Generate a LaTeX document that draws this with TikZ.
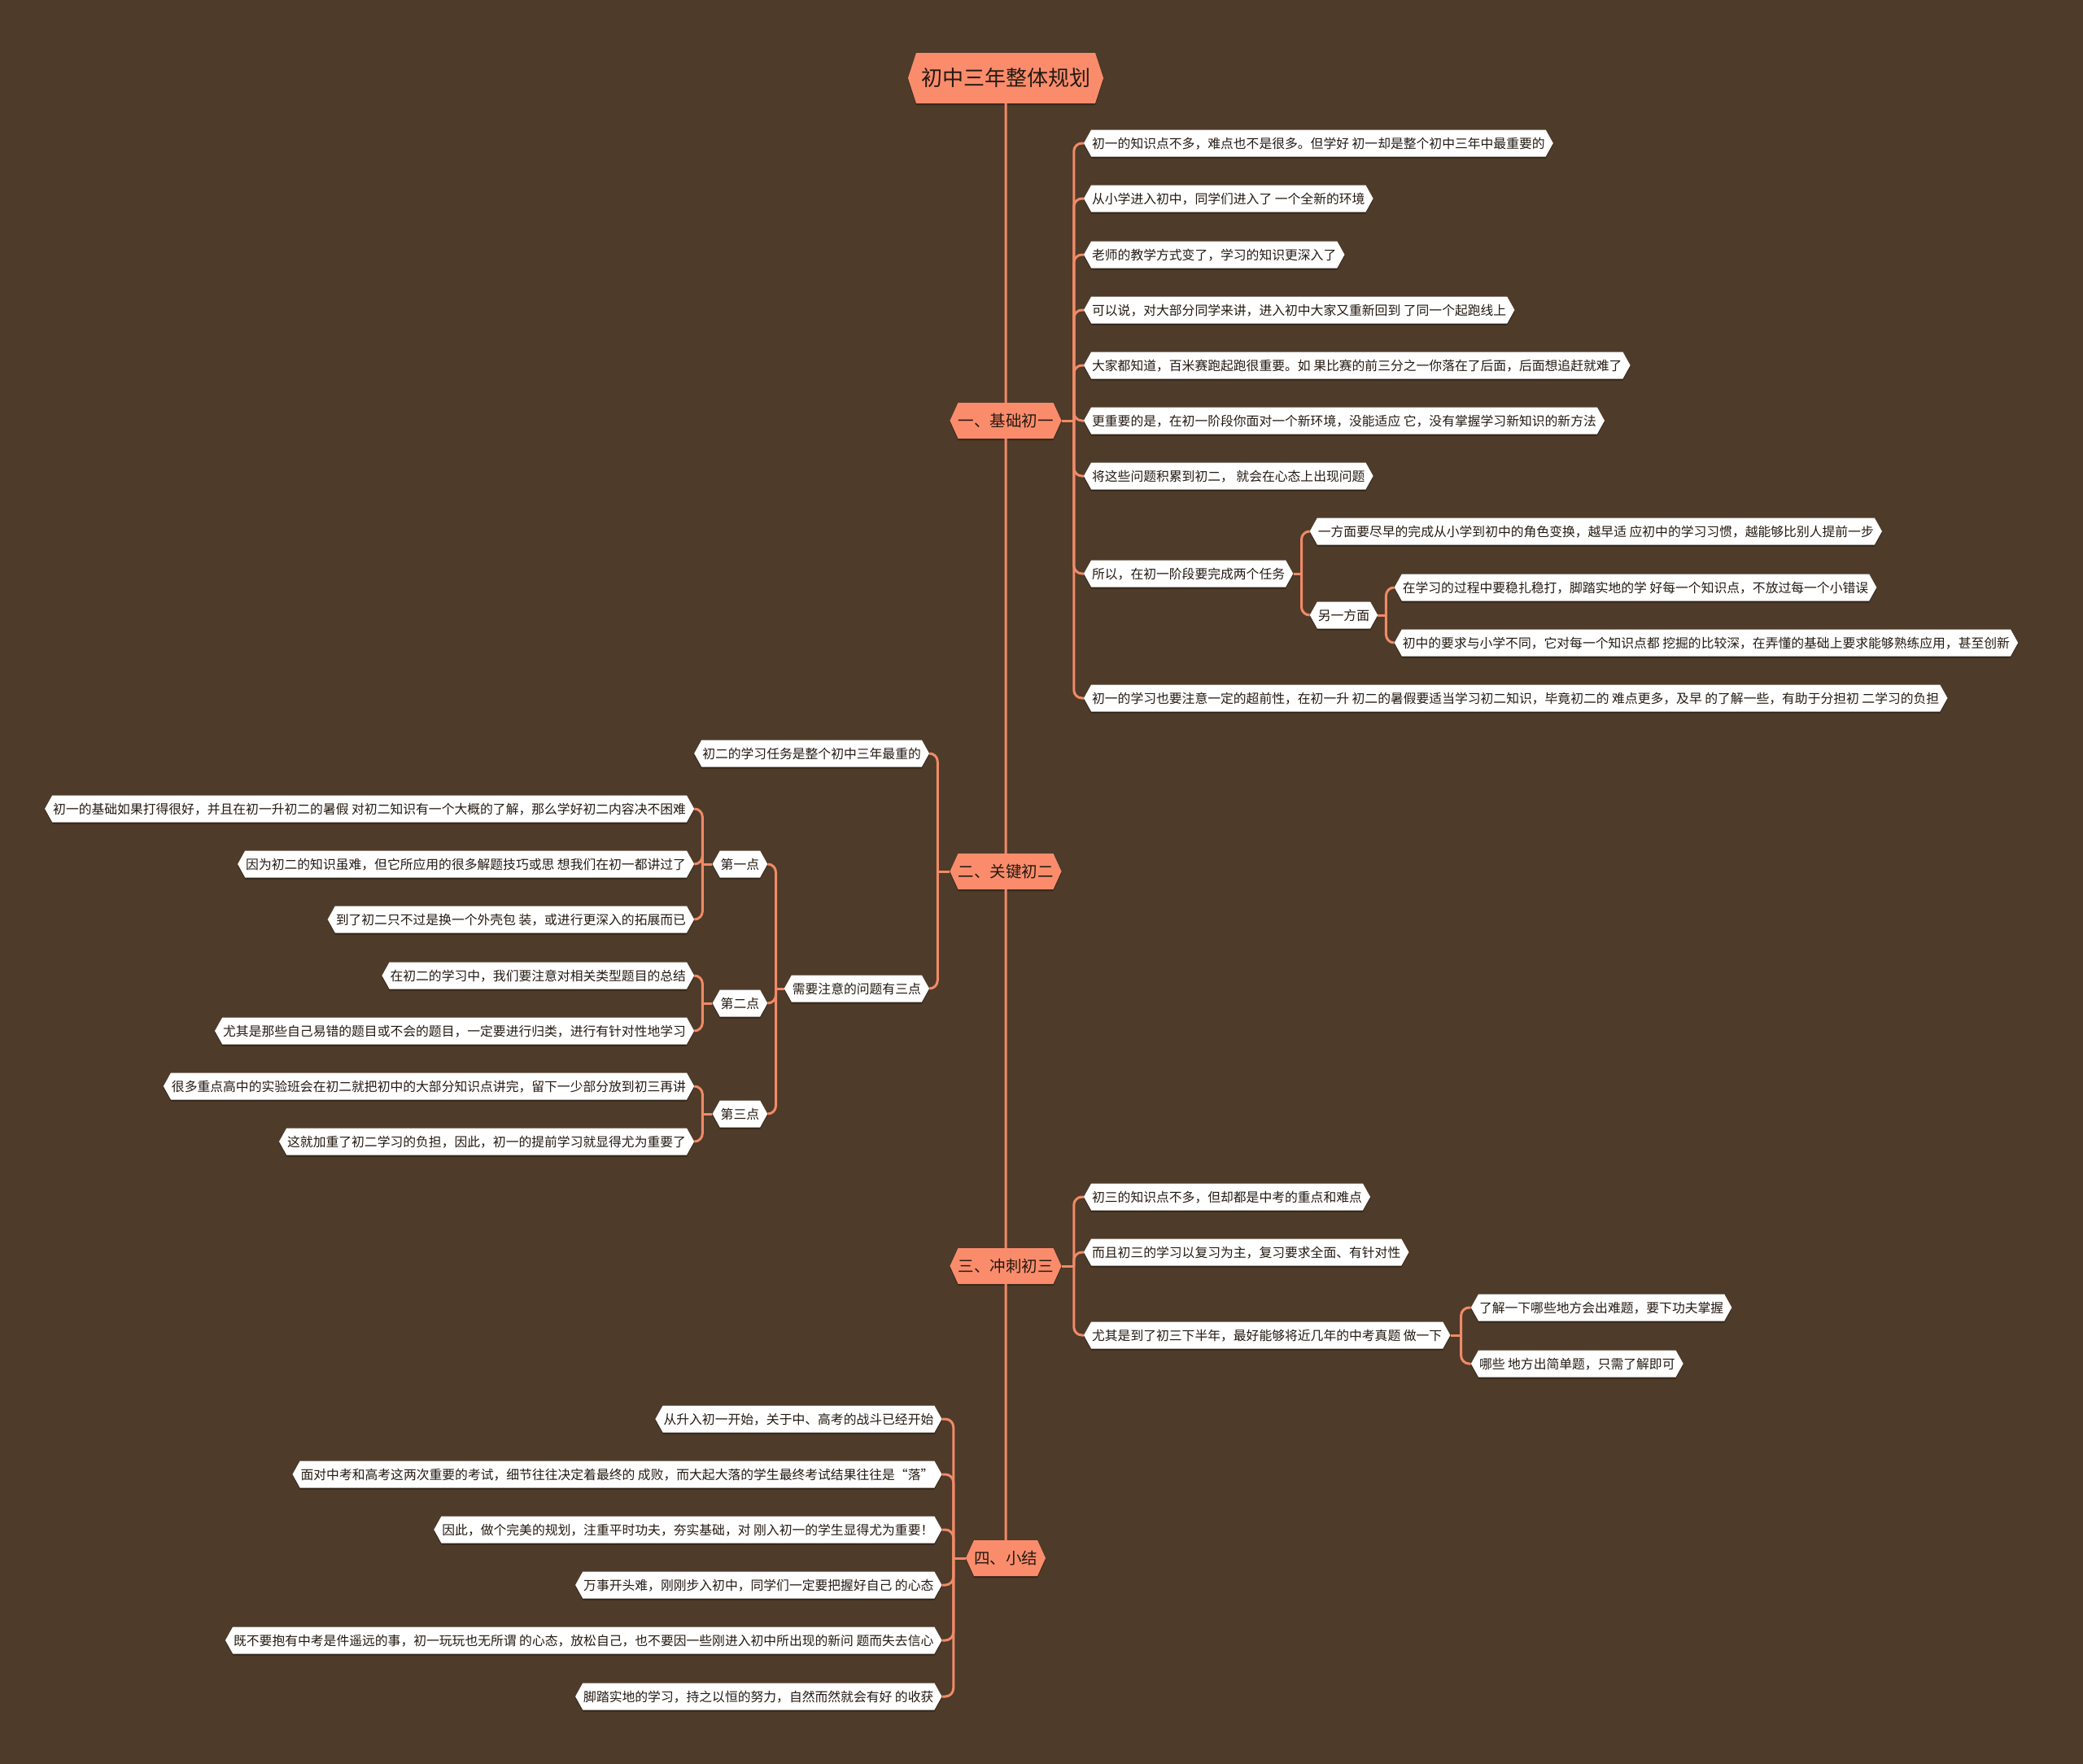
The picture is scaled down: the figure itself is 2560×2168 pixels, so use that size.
\documentclass[tikz,border=0pt]{standalone}
\usepackage{fontspec}
\setmainfont{Noto Sans CJK SC}
\usetikzlibrary{shapes.symbols,shadows}

\definecolor{bgbrown}{HTML}{4E3B29}
\definecolor{salmon}{HTML}{FA8C6C}
\definecolor{linkcol}{HTML}{F08A67}
\definecolor{inkdark}{HTML}{241A12}

\tikzset{
  hexbox/.style={signal, signal to=east and west,
    drop shadow={shadow xshift=0pt, shadow yshift=-2pt, opacity=0.35, fill=black}},
  root/.style={hexbox, fill=salmon, text=inkdark, signal pointer angle=144,
    font=\fontsize{26}{26}\selectfont, text height=21.9pt, text depth=2.1pt,
    inner xsep=6pt, inner ysep=19pt},
  branch/.style={hexbox, fill=salmon, text=inkdark, signal pointer angle=131,
    font=\fontsize{19.5}{20}\selectfont, text height=16.4pt, text depth=1.6pt,
    inner xsep=0pt, inner ysep=13pt},
  leaf/.style={hexbox, fill=white, text=inkdark, signal pointer angle=122,
    font=\fontsize{15.8}{16}\selectfont, text height=13.5pt, text depth=1.5pt,
    inner xsep=1pt, inner ysep=9pt},
  rleaf/.style={leaf, anchor=west, xshift=#1},
  rleaf/.default=12pt,
  lleaf/.style={leaf, anchor=east, xshift=-#1},
  lleaf/.default=10pt,
  spine/.style={draw=linkcol, line width=3pt},
  link/.style={draw=linkcol, line width=3pt, rounded corners=10pt},
}

\begin{document}
\begin{tikzpicture}[x=1pt, y=-1pt]
    \path[use as bounding box, fill=bgbrown] (0,0) rectangle (2560,2168);

    % Title and branches
    \node[root] (title) at (1236,96) {初中三年整体规划};
    \node[branch] (b1) at (1236,517) {一、基础初一};
    \node[branch] (b2) at (1236,1071) {二、关键初二};
    \node[branch] (b3) at (1236,1556) {三、冲刺初三};
    \node[branch] (b4) at (1236,1915) {四、小结};

    \draw[spine] (title) -- (b1);
    \draw[spine] (b1) -- (b2);
    \draw[spine] (b2) -- (b3);
    \draw[spine] (b3) -- (b4);

    % 一、基础初一
    \draw[link] (b1.east) -- ++(15,0) coordinate (j1);
    \node[rleaf] (n1_1) at (j1 |- 0,176) {初一的知识点不多，难点也不是很多。但学好 初一却是整个初中三年中最重要的};
    \node[rleaf] (n1_2) at (j1 |- 0,244) {从小学进入初中，同学们进入了 一个全新的环境};
    \node[rleaf] (n1_3) at (j1 |- 0,313) {老师的教学方式变了，学习的知识更深入了};
    \node[rleaf] (n1_4) at (j1 |- 0,381) {可以说，对大部分同学来讲，进入初中大家又重新回到 了同一个起跑线上};
    \node[rleaf] (n1_5) at (j1 |- 0,449) {大家都知道，百米赛跑起跑很重要。如 果比赛的前三分之一你落在了后面，后面想追赶就难了};
    \node[rleaf] (n1_6) at (j1 |- 0,517) {更重要的是，在初一阶段你面对一个新环境，没能适应 它，没有掌握学习新知识的新方法};
    \node[rleaf] (n1_7) at (j1 |- 0,585) {将这些问题积累到初二， 就会在心态上出现问题};
    \node[rleaf] (n1_8) at (j1 |- 0,705) {所以，在初一阶段要完成两个任务};
    \node[rleaf] (n1_9) at (j1 |- 0,858) {初一的学习也要注意一定的超前性，在初一升 初二的暑假要适当学习初二知识，毕竟初二的 难点更多，及早 的了解一些，有助于分担初 二学习的负担};
    \foreach \c in {n1_1,n1_2,n1_3,n1_4,n1_5,n1_6,n1_7,n1_8,n1_9}
        \draw[link] (j1) |- (\c.west);

    \draw[link] (n1_8.east) -- ++(10,0) coordinate (j1_8);
    \node[rleaf=10pt] (n1_8a) at (j1_8 |- 0,653) {一方面要尽早的完成从小学到初中的角色变换，越早适 应初中的学习习惯，越能够比别人提前一步};
    \node[rleaf=10pt] (n1_8b) at (j1_8 |- 0,756) {另一方面};
    \foreach \c in {n1_8a,n1_8b}
        \draw[link] (j1_8) |- (\c.west);

    \draw[link] (n1_8b.east) -- ++(10,0) coordinate (j1_8b);
    \node[rleaf=10pt] (n1_8b1) at (j1_8b |- 0,722) {在学习的过程中要稳扎稳打，脚踏实地的学 好每一个知识点，不放过每一个小错误};
    \node[rleaf=10pt] (n1_8b2) at (j1_8b |- 0,790) {初中的要求与小学不同，它对每一个知识点都 挖掘的比较深，在弄懂的基础上要求能够熟练应用，甚至创新};
    \foreach \c in {n1_8b1,n1_8b2}
        \draw[link] (j1_8b) |- (\c.west);

    % 二、关键初二
    \draw[link] (b2.west) -- ++(-15,0) coordinate (j2);
    \node[lleaf] (n2_1) at (j2 |- 0,926) {初二的学习任务是整个初中三年最重的};
    \node[lleaf] (n2_2) at (j2 |- 0,1215) {需要注意的问题有三点};
    \foreach \c in {n2_1,n2_2}
        \draw[link] (j2) |- (\c.east);

    \draw[link] (n2_2.west) -- ++(-10,0) coordinate (j2_2);
    \node[lleaf] (p1) at (j2_2 |- 0,1062) {第一点};
    \node[lleaf] (p2) at (j2_2 |- 0,1233) {第二点};
    \node[lleaf] (p3) at (j2_2 |- 0,1369) {第三点};
    \foreach \c in {p1,p2,p3}
        \draw[link] (j2_2) |- (\c.east);

    \draw[link] (p1.west) -- ++(-12,0) coordinate (jp1);
    \node[lleaf] (p1_1) at (jp1 |- 0,994) {初一的基础如果打得很好，并且在初一升初二的暑假 对初二知识有一个大概的了解，那么学好初二内容决不困难};
    \node[lleaf] (p1_2) at (jp1 |- 0,1062) {因为初二的知识虽难，但它所应用的很多解题技巧或思 想我们在初一都讲过了};
    \node[lleaf] (p1_3) at (jp1 |- 0,1130) {到了初二只不过是换一个外壳包 装，或进行更深入的拓展而已};
    \foreach \c in {p1_1,p1_2,p1_3}
        \draw[link] (jp1) |- (\c.east);

    \draw[link] (p2.west) -- ++(-12,0) coordinate (jp2);
    \node[lleaf] (p2_1) at (jp2 |- 0,1199) {在初二的学习中，我们要注意对相关类型题目的总结};
    \node[lleaf] (p2_2) at (jp2 |- 0,1267) {尤其是那些自己易错的题目或不会的题目，一定要进行归类，进行有针对性地学习};
    \foreach \c in {p2_1,p2_2}
        \draw[link] (jp2) |- (\c.east);

    \draw[link] (p3.west) -- ++(-12,0) coordinate (jp3);
    \node[lleaf] (p3_1) at (jp3 |- 0,1335) {很多重点高中的实验班会在初二就把初中的大部分知识点讲完，留下一少部分放到初三再讲};
    \node[lleaf] (p3_2) at (jp3 |- 0,1403) {这就加重了初二学习的负担，因此，初一的提前学习就显得尤为重要了};
    \foreach \c in {p3_1,p3_2}
        \draw[link] (jp3) |- (\c.east);

    % 三、冲刺初三
    \draw[link] (b3.east) -- ++(15,0) coordinate (j3);
    \node[rleaf] (n3_1) at (j3 |- 0,1471) {初三的知识点不多，但却都是中考的重点和难点};
    \node[rleaf] (n3_2) at (j3 |- 0,1539) {而且初三的学习以复习为主，复习要求全面、有针对性};
    \node[rleaf] (n3_3) at (j3 |- 0,1641) {尤其是到了初三下半年，最好能够将近几年的中考真题 做一下};
    \foreach \c in {n3_1,n3_2,n3_3}
        \draw[link] (j3) |- (\c.west);

    \draw[link] (n3_3.east) -- ++(13,0) coordinate (j3_3);
    \node[rleaf] (n3_3a) at (j3_3 |- 0,1607) {了解一下哪些地方会出难题，要下功夫掌握};
    \node[rleaf] (n3_3b) at (j3_3 |- 0,1676) {哪些 地方出简单题，只需了解即可};
    \foreach \c in {n3_3a,n3_3b}
        \draw[link] (j3_3) |- (\c.west);

    % 四、小结
    \draw[link] (b4.west) -- ++(-15,0) coordinate (j4);
    \node[lleaf=14pt] (n4_1) at (j4 |- 0,1744) {从升入初一开始，关于中、高考的战斗已经开始};
    \node[lleaf=14pt] (n4_2) at (j4 |- 0,1812) {面对中考和高考这两次重要的考试，细节往往决定着最终的 成败，而大起大落的学生最终考试结果往往是“落”};
    \node[lleaf=14pt] (n4_3) at (j4 |- 0,1880) {因此，做个完美的规划，注重平时功夫，夯实基础，对 刚入初一的学生显得尤为重要！};
    \node[lleaf=14pt] (n4_4) at (j4 |- 0,1948) {万事开头难，刚刚步入初中，同学们一定要把握好自己 的心态};
    \node[lleaf=14pt] (n4_5) at (j4 |- 0,2016) {既不要抱有中考是件遥远的事，初一玩玩也无所谓 的心态，放松自己，也不要因一些刚进入初中所出现的新问 题而失去信心};
    \node[lleaf=14pt] (n4_6) at (j4 |- 0,2085) {脚踏实地的学习，持之以恒的努力，自然而然就会有好 的收获};
    \foreach \c in {n4_1,n4_2,n4_3,n4_4,n4_5,n4_6}
        \draw[link] (j4) |- (\c.east);
\end{tikzpicture}
\end{document}
